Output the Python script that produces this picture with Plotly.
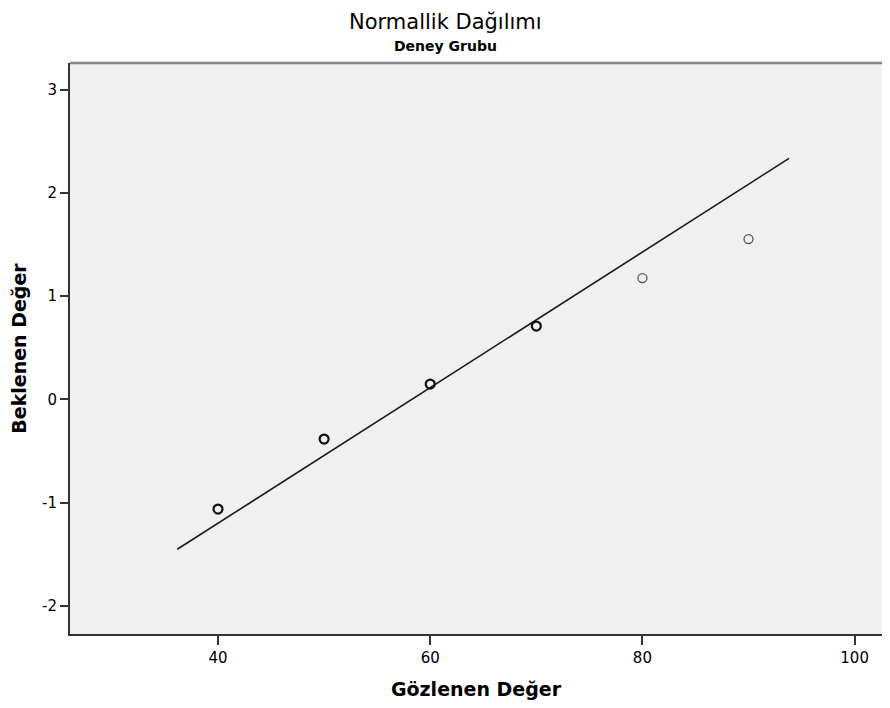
import plotly.graph_objects as go

# Observed values and expected normal quantiles
observed_dark = [40, 50, 60, 70]
expected_dark = [-1.063, -0.385, 0.148, 0.71]
observed_light = [80, 90]
expected_light = [1.175, 1.553]

# Reference line endpoints
line_x = [36.16, 93.82]
line_y = [-1.453, 2.335]

x_ticks = [40, 60, 80, 100]
y_ticks = [-2, -1, 0, 1, 2, 3]

FONT = "DejaVu Sans, Liberation Sans, Arial, sans-serif"

W, H = 874, 692
L, R, T, B = 62, 0, 55, 66
title_x = (437 - L) / (W - L - R)

fig = go.Figure()
fig.add_trace(go.Scatter(
    x=line_x, y=line_y, mode="lines",
    line=dict(color="#1a1a1a", width=1.6),
    showlegend=False, hoverinfo="skip"))
fig.add_trace(go.Scatter(
    x=observed_dark, y=expected_dark, mode="markers",
    marker=dict(symbol="circle-open", size=9, color="#111111",
                line=dict(width=2.2, color="#111111")),
    showlegend=False))
fig.add_trace(go.Scatter(
    x=observed_light, y=expected_light, mode="markers",
    marker=dict(symbol="circle-open", size=9, color="#555555",
                line=dict(width=1.3, color="#555555")),
    showlegend=False))

fig.update_layout(
    width=W, height=H,
    margin=dict(l=L, r=R, t=T, b=B),
    paper_bgcolor="white",
    plot_bgcolor="#F0F0F0",
    font=dict(family=FONT, color="#000000", size=15),
    xaxis=dict(
        range=[26.05, 102.58], tickvals=x_ticks,
        ticktext=[str(v) for v in x_ticks],
        showgrid=False, zeroline=False,
        showline=True, linecolor="#333333", linewidth=2,
        ticks="outside", ticklen=9, tickwidth=2, tickcolor="#333333",
        tickfont=dict(size=15, family=FONT),
        title=dict(text="<b>Gözlenen Değer</b>", standoff=20,
                   font=dict(size=19, family=FONT)),
    ),
    yaxis=dict(
        range=[-2.274, 3.259], tickvals=y_ticks,
        ticktext=[str(v) for v in y_ticks],
        showgrid=False, zeroline=False,
        showline=True, linecolor="#333333", linewidth=2,
        ticks="outside", ticklen=8, tickwidth=2, tickcolor="#333333",
        tickfont=dict(size=15, family=FONT),
        title=dict(text="<b>Beklenen Değer</b>", standoff=12,
                   font=dict(size=19, family=FONT)),
    ),
    shapes=[dict(type="line", xref="paper", yref="paper",
                 x0=0, x1=1, y0=1, y1=1,
                 line=dict(color="#888888", width=2.5))],
    annotations=[
        dict(text="Normallik Dağılımı", xref="paper", yref="paper",
             x=title_x, y=1, yshift=41, xanchor="center", yanchor="middle",
             showarrow=False, font=dict(size=21, family=FONT)),
        dict(text="<b>Deney Grubu</b>", xref="paper", yref="paper",
             x=title_x, y=1, yshift=17, xanchor="center", yanchor="middle",
             showarrow=False, font=dict(size=14, family=FONT)),
    ],
)

fig.write_html("out.html")
